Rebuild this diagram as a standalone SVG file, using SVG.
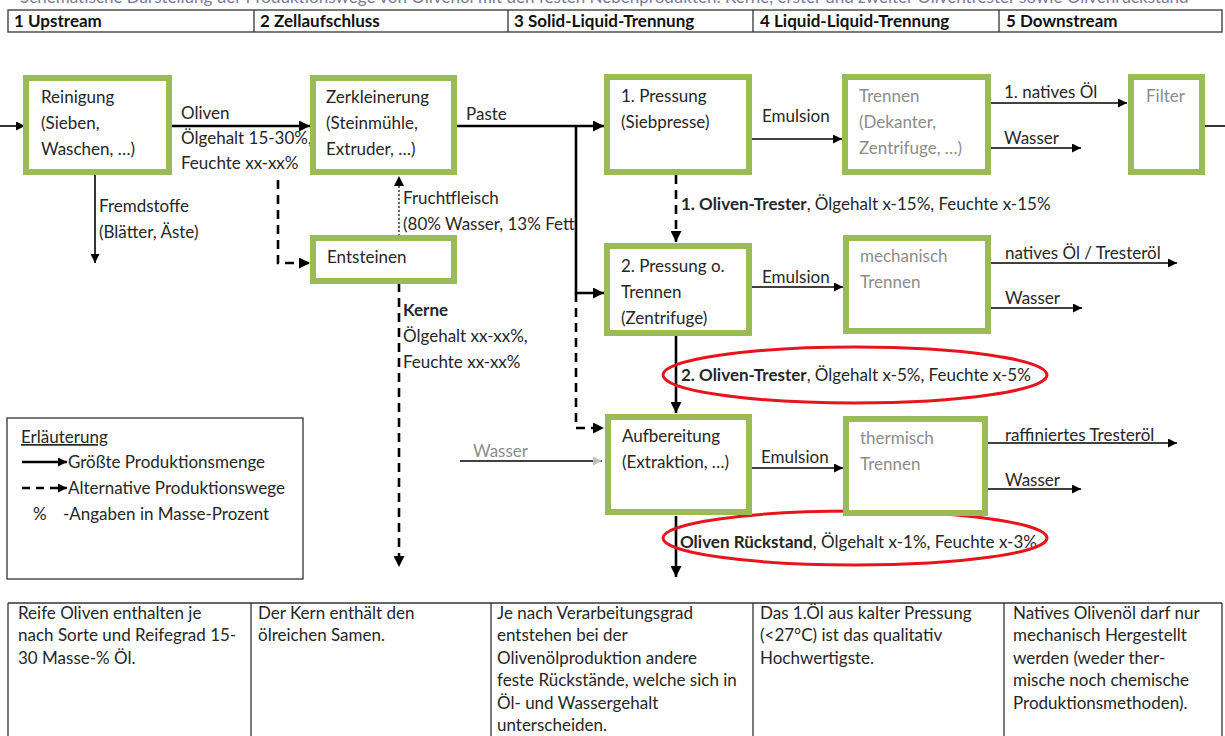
<svg xmlns="http://www.w3.org/2000/svg" width="1225" height="736" viewBox="0 0 1225 736">
<style>
.t{font-family:Lato,"Liberation Sans",sans-serif;font-size:17px;fill:#262626}
.g{fill:#8c8c8c}
.b{font-weight:bold}
.hd{font-family:Lato,"Liberation Sans",sans-serif;font-size:17px;font-weight:bold;fill:#111}
.node rect{fill:#fff;stroke:#9bbb59;stroke-width:6}
.ln{fill:none;stroke:#000}
.thick{stroke-width:2.6}
.thin{stroke-width:1.6}
.dash{stroke-dasharray:9 6}
.grid{fill:none;stroke:#333;stroke-width:1.3}
.ell{fill:none;stroke:#e8141b;stroke-width:3}
</style>
<defs>
<marker id="a" viewBox="0 0 10 10" refX="10" refY="5" markerWidth="11" markerHeight="11" markerUnits="userSpaceOnUse" orient="auto"><path d="M0,0L10,5L0,10z" fill="#000"/></marker>
<marker id="as" viewBox="0 0 10 10" refX="10" refY="5" markerWidth="9" markerHeight="9" markerUnits="userSpaceOnUse" orient="auto"><path d="M0,0L10,5L0,10z" fill="#000"/></marker>
<marker id="ag" viewBox="0 0 10 10" refX="10" refY="5" markerWidth="9" markerHeight="9" markerUnits="userSpaceOnUse" orient="auto"><path d="M0,0L10,5L0,10z" fill="#bfbfbf"/></marker>
<clipPath id="clipF"><rect x="0" y="0" width="576" height="736"/></clipPath>
</defs>
<rect width="1225" height="736" fill="#fff"/>

<text class="t" x="20" y="3" style="fill:#7a7a9a">Schematische Darstellung der Produktionswege von Olivenöl mit den festen Nebenprodukten: Kerne, erster und zweiter Oliventrester sowie Olivenrückstand</text>

<g id="header">
<rect class="grid" x="8" y="10" width="1214" height="22"/>
<path class="grid" d="M254,10V32M508,10V32M753,10V32M999,10V32"/>
<text class="hd" x="14" y="27">1 Upstream</text>
<text class="hd" x="260" y="27">2 Zellaufschluss</text>
<text class="hd" x="514" y="27">3 Solid-Liquid-Trennung</text>
<text class="hd" x="760" y="27">4 Liquid-Liquid-Trennung</text>
<text class="hd" x="1006" y="27">5 Downstream</text>
</g>

<g id="connectors">
<path class="ln thin" d="M0,126H25" marker-end="url(#as)"/>
<path class="ln thick" d="M170,126H310" marker-end="url(#a)"/>
<path class="ln thin" d="M95,175V263" marker-end="url(#as)"/>
<path class="ln thick dash" d="M278,180V263H310" marker-end="url(#a)"/>
<path class="ln" d="M399,236V178" stroke="#aaa" stroke-width="1.2" stroke-dasharray="2 2"/>
<path d="M394,186L399,176L404,186z" fill="#000"/>
<path class="ln thick dash" d="M399,283V567" marker-end="url(#a)"/>
<path class="ln thick" d="M457,126H604" marker-end="url(#a)"/>
<path class="ln thick" d="M576,126V293H604" marker-end="url(#a)"/>
<path class="ln thick dash" d="M576,293V428H604" marker-end="url(#a)"/>
<path class="ln thin" d="M752,139H842" marker-end="url(#as)"/>
<path class="ln thin" d="M991,103H1127" marker-end="url(#as)"/>
<path class="ln thin" d="M991,148H1081" marker-end="url(#as)"/>
<path class="ln thin" d="M1205,126H1225"/>
<path class="ln thick dash" d="M676,175V242" marker-end="url(#a)"/>
<path class="ln thin" d="M752,287H843" marker-end="url(#as)"/>
<path class="ln thin" d="M991,263H1177" marker-end="url(#as)"/>
<path class="ln thin" d="M991,308H1082" marker-end="url(#as)"/>
<path class="ln thick" d="M676,336V413" marker-end="url(#a)"/>
<path class="ln" d="M460,461H602" stroke="#bfbfbf" stroke-width="1.6" marker-end="url(#ag)"/>
<path class="ln thin" d="M752,468H843" marker-end="url(#as)"/>
<path class="ln thin" d="M988,443H1177" marker-end="url(#as)"/>
<path class="ln thin" d="M988,489H1081" marker-end="url(#as)"/>
<path class="ln thick" d="M676,516V577" marker-end="url(#a)"/>
</g>

<g id="labels">
<text class="t" x="181" y="119">Oliven</text>
<text class="t" x="181" y="144">Ölgehalt 15-30%,</text>
<text class="t" x="181" y="169">Feuchte xx-xx%</text>
<text class="t" x="99" y="212">Fremdstoffe</text>
<text class="t" x="99" y="238">(Blätter, Äste)</text>
<text class="t" x="403" y="204">Fruchtfleisch</text>
<text class="t" x="403" y="230" clip-path="url(#clipF)">(80% Wasser, 13% Fett)</text>
<text class="t b" x="403" y="316">Kerne</text>
<text class="t" x="403" y="342">Ölgehalt xx-xx%,</text>
<text class="t" x="403" y="368">Feuchte xx-xx%</text>
<text class="t" x="466" y="120">Paste</text>
<text class="t" x="762" y="122">Emulsion</text>
<text class="t" x="1004" y="98">1. natives Öl</text>
<text class="t" x="1004" y="144">Wasser</text>
<text class="t" x="681" y="210"><tspan class="b">1. Oliven-Trester</tspan>, Ölgehalt x-15%, Feuchte x-15%</text>
<text class="t" x="762" y="283">Emulsion</text>
<text class="t" x="1005" y="259">natives Öl / Tresteröl</text>
<text class="t" x="1005" y="304">Wasser</text>
<text class="t" x="681" y="381"><tspan class="b">2. Oliven-Trester</tspan>, Ölgehalt x-5%, Feuchte x-5%</text>
<text class="t g" x="473" y="457">Wasser</text>
<text class="t" x="761" y="463">Emulsion</text>
<text class="t" x="1005" y="441">raffiniertes Tresteröl</text>
<text class="t" x="1005" y="486">Wasser</text>
<text class="t" x="680" y="548"><tspan class="b">Oliven Rückstand</tspan>, Ölgehalt x-1%, Feuchte x-3%</text>
<ellipse class="ell" cx="855" cy="375" rx="192" ry="28"/>
<ellipse class="ell" cx="855" cy="538" rx="192" ry="27"/>
</g>

<g id="n-reinigung" class="node">
<rect x="26" y="78" width="143" height="94"/>
<text class="t" x="41" y="103">Reinigung</text>
<text class="t" x="41" y="129">(Sieben,</text>
<text class="t" x="41" y="155">Waschen, …)</text>
</g>
<g id="n-zerkleinerung" class="node">
<rect x="313" y="78" width="141" height="94"/>
<text class="t" x="326" y="103">Zerkleinerung</text>
<text class="t" x="326" y="129">(Steinmühle,</text>
<text class="t" x="326" y="155">Extruder, …)</text>
</g>
<g id="n-entsteinen" class="node">
<rect x="313" y="238" width="141" height="43"/>
<text class="t" x="327" y="263">Entsteinen</text>
</g>
<g id="n-pressung1" class="node">
<rect x="607" y="77" width="142" height="95"/>
<text class="t" x="621" y="102">1. Pressung</text>
<text class="t" x="621" y="128">(Siebpresse)</text>
</g>
<g id="n-trennen" class="node">
<rect x="845" y="77" width="143" height="95"/>
<text class="t g" x="859" y="102">Trennen</text>
<text class="t g" x="859" y="128">(Dekanter,</text>
<text class="t g" x="859" y="154">Zentrifuge, …)</text>
</g>
<g id="n-filter" class="node">
<rect x="1131" y="77" width="71" height="95"/>
<text class="t g" x="1146" y="102">Filter</text>
</g>
<g id="n-pressung2" class="node">
<rect x="607" y="246" width="142" height="87"/>
<text class="t" x="621" y="272">2. Pressung o.</text>
<text class="t" x="621" y="298">Trennen</text>
<text class="t" x="621" y="324">(Zentrifuge)</text>
</g>
<g id="n-mechanisch" class="node">
<rect x="846" y="238" width="142" height="93"/>
<text class="t g" x="860" y="262">mechanisch</text>
<text class="t g" x="860" y="288">Trennen</text>
</g>
<g id="n-aufbereitung" class="node">
<rect x="608" y="417" width="141" height="95"/>
<text class="t" x="622" y="442">Aufbereitung</text>
<text class="t" x="622" y="468">(Extraktion, …)</text>
</g>
<g id="n-thermisch" class="node">
<rect x="846" y="419" width="139" height="94"/>
<text class="t g" x="860" y="444">thermisch</text>
<text class="t g" x="860" y="470">Trennen</text>
</g>

<g id="legend">
<rect x="7" y="418" width="296" height="161" fill="#fff" stroke="#333" stroke-width="1.3"/>
<text class="t" x="21" y="443" text-decoration="underline">Erläuterung</text>
<path class="ln thick" d="M22,462H67" marker-end="url(#as)"/>
<text class="t" x="68" y="468">Größte Produktionsmenge</text>
<path class="ln thick" d="M22,488H67" stroke-dasharray="8 6" marker-end="url(#as)"/>
<text class="t" x="68" y="494">Alternative Produktionswege</text>
<text class="t" x="33" y="520">%</text>
<text class="t" x="63" y="520">-Angaben in Masse-Prozent</text>
</g>

<g id="table">
<path class="grid" d="M8,603H1222M8,603V736M251,603V736M491,603V736M753,603V736M1004,603V736M1222,603V736"/>
<text class="t" x="18" y="619">Reife Oliven enthalten je</text>
<text class="t" x="18" y="641">nach Sorte und Reifegrad 15-</text>
<text class="t" x="18" y="664">30 Masse-% Öl.</text>
<text class="t" x="258" y="619">Der Kern enthält den</text>
<text class="t" x="258" y="641">ölreichen Samen.</text>
<text class="t" x="497" y="619">Je nach Verarbeitungsgrad</text>
<text class="t" x="497" y="641">entstehen bei der</text>
<text class="t" x="497" y="664">Olivenölproduktion andere</text>
<text class="t" x="497" y="686">feste Rückstände, welche sich in</text>
<text class="t" x="497" y="709">Öl- und Wassergehalt</text>
<text class="t" x="497" y="731">unterscheiden.</text>
<text class="t" x="760" y="619">Das 1.Öl aus kalter Pressung</text>
<text class="t" x="760" y="641">(&lt;27°C) ist das qualitativ</text>
<text class="t" x="760" y="664">Hochwertigste.</text>
<text class="t" x="1013" y="619">Natives Olivenöl darf nur</text>
<text class="t" x="1013" y="641">mechanisch Hergestellt</text>
<text class="t" x="1013" y="664">werden (weder ther-</text>
<text class="t" x="1013" y="686">mische noch chemische</text>
<text class="t" x="1013" y="709">Produktionsmethoden).</text>
</g>
</svg>
